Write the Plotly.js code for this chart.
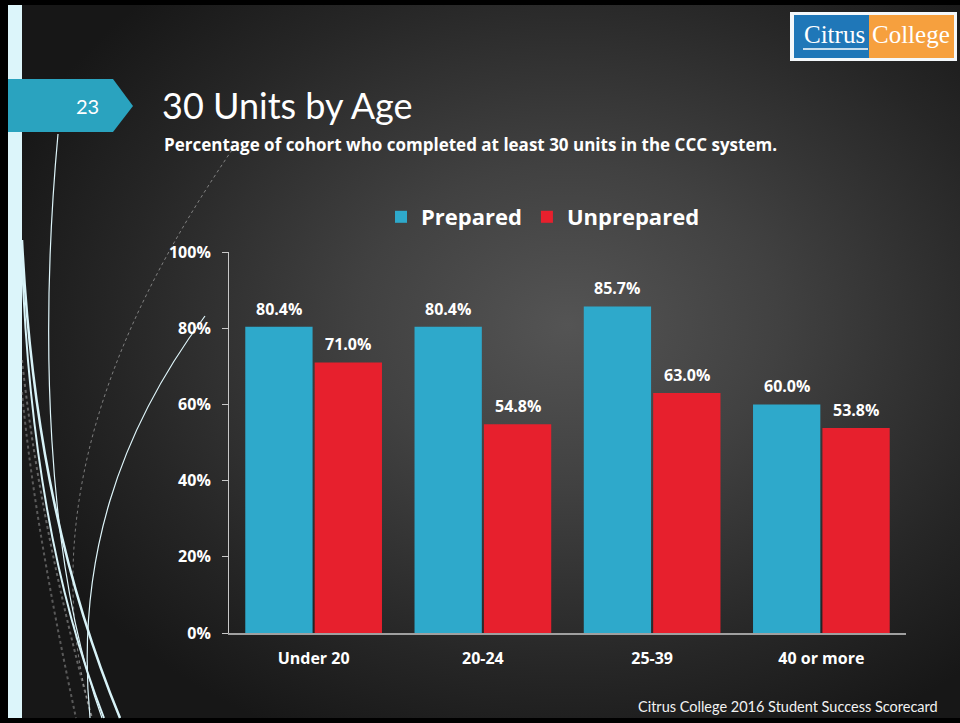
<!DOCTYPE html>
<html><head><meta charset="utf-8">
<script src="https://cdn.plot.ly/plotly-3.0.1.min.js"></script>
<style>
html,body{margin:0;padding:0;background:#000;width:960px;height:723px;overflow:hidden;}
#bg{position:absolute;left:8px;top:5px;width:952px;height:713px;
 background: radial-gradient(ellipse 600px 460px at 560px 320px, #545454 0%, #414141 35%, #262626 75%, #171717 100%);}
#chart{position:absolute;left:0;top:0;width:960px;height:723px;}
</style></head><body>
<div id="bg"></div><div id="chart"></div>
<script>
// ---- data ----
const categories = ['Under 20', '20-24', '25-39', '40 or more'];
const prepared = [0.804, 0.804, 0.857, 0.600];
const unprepared = [0.710, 0.548, 0.630, 0.538];
const seriesNames = ['Prepared', 'Unprepared'];
const yTickVals = [0, 0.2, 0.4, 0.6, 0.8, 1.0];
const yTickText = ['0%', '20%', '40%', '60%', '80%', '100%'];

// ---- layout helpers (pixel -> paper) ----
const L = 229, R = 906, T = 252, B = 633;
const fx = x => (x - L) / (R - L);
const fy = y => (B - y) / (B - T);
function path(str) {
  const tok = str.trim().split(/\s+/);
  const out = []; let isX = true;
  for (const t of tok) {
    if (/^[A-Za-z]$/.test(t)) { out.push(t); isX = true; }
    else { const v = parseFloat(t); out.push((isX ? fx(v) : fy(v)).toFixed(5)); isX = !isX; }
  }
  return out.join(' ');
}
function rect(x0, y0, x1, y1, fill, layer) {
  return {type: 'rect', xref: 'paper', yref: 'paper', x0: fx(x0), x1: fx(x1), y0: fy(y1), y1: fy(y0),
          fillcolor: fill, line: {width: 0}, layer: layer || 'below'};
}
function curve(d, color, width, dash) {
  return {type: 'path', xref: 'paper', yref: 'paper', path: path(d),
          line: {color: color, width: width, dash: dash || 'solid'}, layer: 'below'};
}

const FONT = 'Lato, "Open Sans", sans-serif';
const BFONT = '"Open Sans", Lato, sans-serif';
const blue = '#2ea9cb', red = '#e7202d';

const shapes = [
  rect(8, 5, 22, 718, '#dcf5fa'),
  curve('M 232 150 C 130 300 30 500 92 718', 'rgba(200,200,200,0.55)', 1, 'dot'),
  curve('M 22 360 C 35 480 60 600 92 718', 'rgba(190,190,190,0.45)', 2, 'dot'),
  curve('M 22 392 C 32 500 55 620 76 718', 'rgba(190,190,190,0.40)', 2, 'dot'),
  curve('M 205 316 C 120 430 75 560 90 718', '#dff6fb', 1.2),
  curve('M 58 134 C 40 330 45 560 102 718', '#dff6fb', 1.2),
  curve('M 22 240 C 30 400 55 560 120 718', '#d8f3f8', 2.5),
  curve('M 22 262 C 28 420 50 580 104 718', '#d8f3f8', 2),
  {type: 'path', xref: 'paper', yref: 'paper', path: path('M 8 79 L 113 79 L 133 106 L 113 132 L 8 132 Z'),
   fillcolor: '#2aa3bf', line: {width: 0}, layer: 'below'},
  rect(790, 12, 957, 61, '#f4f8fb'),
  rect(794, 15, 869, 58, '#1f77b8'),
  rect(869, 15, 954, 58, '#f6a03e'),
  {type: 'line', xref: 'paper', yref: 'paper', x0: fx(803), x1: fx(868), y0: fy(49), y1: fy(49),
   line: {color: '#ffffff', width: 1.5}, layer: 'below'}
];

// bar value labels placed above each bar through the axes' own scales
const groupSlot = (R - L) / categories.length;
const barGap = 0.18;
const halfOffset = groupSlot * (1 - barGap) / 4;
const labelFont = {family: BFONT, size: 16, color: '#ffffff', weight: 'bold'};
const valueLabels = [];
[prepared, unprepared].forEach((vals, si) => {
  vals.forEach((v, i) => {
    valueLabels.push({x: categories[i], y: v, xref: 'x', yref: 'y', text: (v * 100).toFixed(1) + '%',
      showarrow: false, xanchor: 'center', yanchor: 'bottom', xshift: si === 0 ? -halfOffset : halfOffset,
      yshift: 5, font: labelFont});
  });
});

const annotations = [
  {text: '23', x: fx(87), y: fy(106), xref: 'paper', yref: 'paper', showarrow: false,
   xanchor: 'center', yanchor: 'middle', font: {family: FONT, size: 20, color: '#ffffff'}},
  {text: 'Percentage of cohort who completed at least 30 units in the CCC system.',
   x: fx(162), y: fy(145), xref: 'paper', yref: 'paper', showarrow: false, xanchor: 'left', yanchor: 'middle',
   font: {family: BFONT, size: 17, color: '#ffffff', weight: 'bold'}},
  {text: 'Citrus College 2016 Student Success Scorecard', x: fx(940), y: fy(706), xref: 'paper', yref: 'paper',
   showarrow: false, xanchor: 'right', yanchor: 'middle', font: {family: FONT, size: 14.5, color: '#f2f2f2'}},
  {text: 'Citrus', x: fx(834), y: fy(34), xref: 'paper', yref: 'paper', showarrow: false,
   xanchor: 'center', yanchor: 'middle', font: {family: '"Liberation Serif", serif', size: 25, color: '#ffffff'}},
  {text: 'College', x: fx(911), y: fy(34), xref: 'paper', yref: 'paper', showarrow: false,
   xanchor: 'center', yanchor: 'middle', font: {family: '"Liberation Serif", serif', size: 25, color: '#ffffff'}}
].concat(valueLabels);

const traces = [
  {type: 'bar', name: seriesNames[0], x: categories, y: prepared, marker: {color: blue, line: {width: 0}},
   hoverinfo: 'none'},
  {type: 'bar', name: seriesNames[1], x: categories, y: unprepared, marker: {color: red, line: {width: 0}},
   hoverinfo: 'none'}
];

const layout = {
  width: 960, height: 723,
  paper_bgcolor: 'rgba(0,0,0,0)', plot_bgcolor: 'rgba(0,0,0,0)',
  margin: {l: L, r: 960 - R, t: T, b: 723 - B, pad: 0},
  barmode: 'group', bargap: barGap, bargroupgap: 0.03,
  title: {text: '30 Units by Age', x: 162 / 960, xref: 'container', xanchor: 'left',
          y: 1 - 106 / 723, yref: 'container', yanchor: 'middle',
          font: {family: FONT, size: 36, color: '#ffffff'}},
  showlegend: true,
  legend: {orientation: 'h', x: fx(381), xanchor: 'left', y: fy(217), yanchor: 'middle',
           font: {family: BFONT, size: 22, color: '#ffffff', weight: 'bold'}, bgcolor: 'rgba(0,0,0,0)'},
  xaxis: {showline: true, linecolor: '#a0a0a0', linewidth: 1.5, ticks: '', showgrid: false, zeroline: false,
          tickfont: {family: BFONT, size: 16, color: '#ffffff', weight: 'bold'}, ticklabelstandoff: 10,
          fixedrange: true},
  yaxis: {range: [0, 1], tickvals: yTickVals, ticktext: yTickText, showline: true, linecolor: '#c8c8c8',
          linewidth: 1, ticks: 'outside', ticklen: 6, tickcolor: '#c8c8c8', showgrid: false, zeroline: false,
          ticklabelstandoff: 8,
          tickfont: {family: BFONT, size: 16, color: '#ffffff', weight: 'bold'}, fixedrange: true},
  shapes: shapes,
  annotations: annotations,
  font: {family: FONT, color: '#ffffff'}
};

Plotly.newPlot('chart', traces, layout, {displayModeBar: false, staticPlot: true});
</script>
</body></html>
